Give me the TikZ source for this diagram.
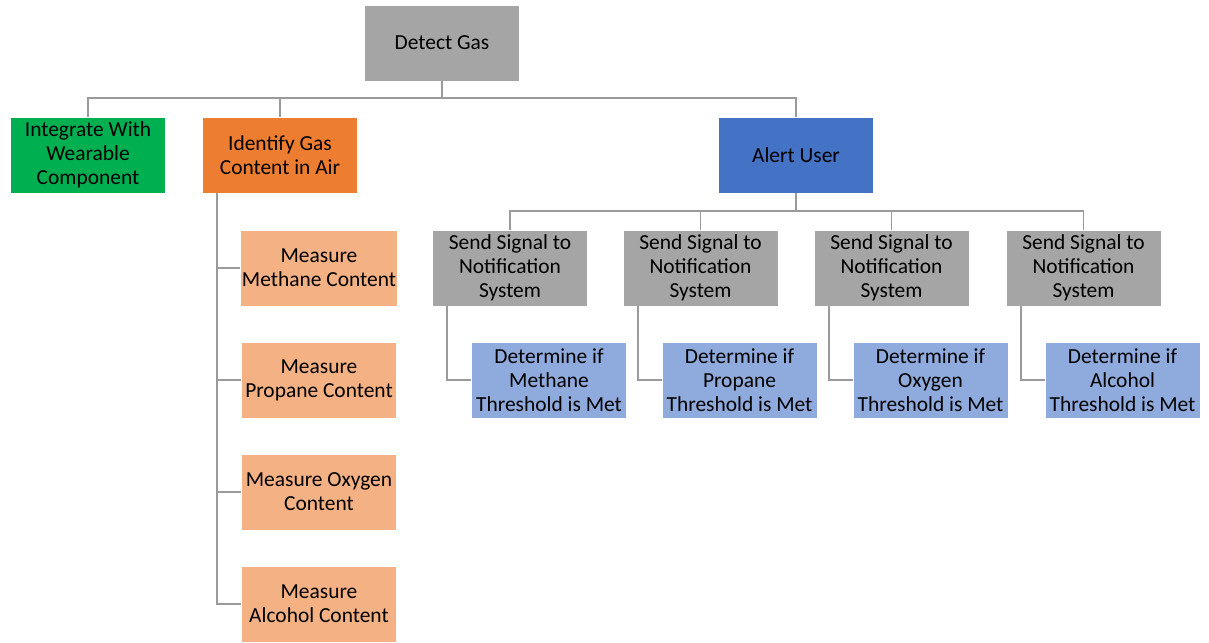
\documentclass[tikz,border=0pt]{standalone}
\usepackage{fontspec}
\setmainfont{Carlito}
\usetikzlibrary{positioning}

\definecolor{boxgray}{HTML}{A5A5A5}
\definecolor{boxgreen}{HTML}{00B050}
\definecolor{boxorange}{HTML}{ED7D31}
\definecolor{boxblue}{HTML}{4472C4}
\definecolor{lightorange}{HTML}{F4B183}
\definecolor{lightblue}{HTML}{8FAADC}
\definecolor{linegray}{HTML}{9A9A9A}

\tikzset{
  box/.style = {rectangle, draw=white, line width=0.4pt, minimum width=3.1cm,
                minimum height=1.52cm, inner sep=1pt, align=center,
                font=\fontsize{12.2}{13.7}\selectfont},
  conn/.style = {draw=linegray, line width=1.1pt}
}

\begin{document}
\begin{tikzpicture}[node distance = 2.24cm, auto]
    \useasboundingbox (0,0) rectangle (24.18,-12.84);

    \node[box, fill=boxgray] (D) at (8.84,-0.86) {Detect Gas};
    \node[box, fill=boxgreen] (G) [below of=D, xshift=-7.08cm] {Integrate With\\Wearable\\Component};
    \node[box, fill=boxorange] (I) [below of=D, xshift=-3.24cm] {Identify Gas\\Content in Air};
    \node[box, fill=boxblue] (A) [below of=D, xshift=7.08cm] {Alert User};

    \node[box, fill=lightorange] (M1) [below of=I, xshift=0.78cm, node distance=2.26cm] {Measure\\Methane Content};
    \node[box, fill=lightorange] (M2) [below of=M1] {Measure\\Propane Content};
    \node[box, fill=lightorange] (M3) [below of=M2] {Measure Oxygen\\Content};
    \node[box, fill=lightorange] (M4) [below of=M3] {Measure\\Alcohol Content};

    \node[box, fill=boxgray] (S1) [below of=A, xshift=-5.72cm, node distance=2.26cm] {Send Signal to\\Notification\\System};
    \node[box, fill=boxgray] (S2) [right of=S1, node distance=3.81cm] {Send Signal to\\Notification\\System};
    \node[box, fill=boxgray] (S3) [right of=S2, node distance=3.82cm] {Send Signal to\\Notification\\System};
    \node[box, fill=boxgray] (S4) [right of=S3, node distance=3.84cm] {Send Signal to\\Notification\\System};

    \node[box, fill=lightblue] (T1) [below of=S1, xshift=0.78cm] {Determine if\\Methane\\Threshold is Met};
    \node[box, fill=lightblue] (T2) [below of=S2, xshift=0.78cm] {Determine if\\Propane\\Threshold is Met};
    \node[box, fill=lightblue] (T3) [below of=S3, xshift=0.78cm] {Determine if\\Oxygen\\Threshold is Met};
    \node[box, fill=lightblue] (T4) [below of=S4, xshift=0.78cm] {Determine if\\Alcohol\\Threshold is Met};

    \draw[conn] (D.south) -- ++(0,-0.34) -| (G.north);
    \draw[conn] (D.south) -- ++(0,-0.34) -| (I.north);
    \draw[conn] (D.south) -- ++(0,-0.34) -| (A.north);

    \draw[conn] ([xshift=0.3cm]I.south west) |- (M1.west);
    \draw[conn] ([xshift=0.3cm]I.south west) |- (M2.west);
    \draw[conn] ([xshift=0.3cm]I.south west) |- (M3.west);
    \draw[conn] ([xshift=0.3cm]I.south west) |- (M4.west);

    \draw[conn] (A.south) -- ++(0,-0.36) -| (S1.north);
    \draw[conn] (A.south) -- ++(0,-0.36) -| (S2.north);
    \draw[conn] (A.south) -- ++(0,-0.36) -| (S3.north);
    \draw[conn] (A.south) -- ++(0,-0.36) -| (S4.north);

    \draw[conn] ([xshift=0.3cm]S1.south west) |- (T1.west);
    \draw[conn] ([xshift=0.3cm]S2.south west) |- (T2.west);
    \draw[conn] ([xshift=0.3cm]S3.south west) |- (T3.west);
    \draw[conn] ([xshift=0.3cm]S4.south west) |- (T4.west);

\end{tikzpicture}
\end{document}
